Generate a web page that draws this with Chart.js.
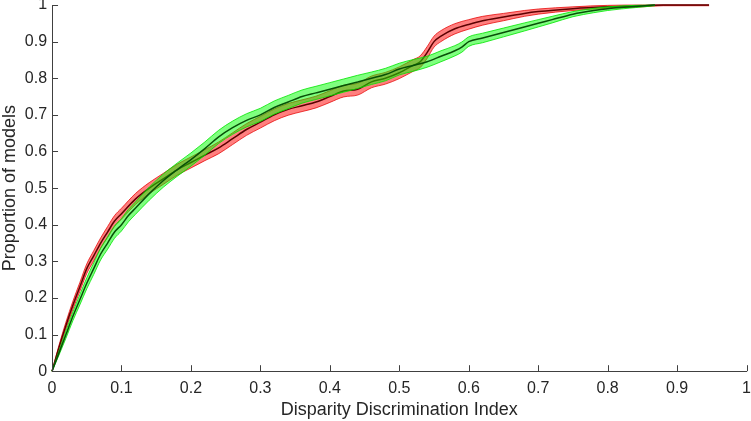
<!DOCTYPE html>
<html>
<head>
<meta charset="utf-8">
<script src="https://cdn.jsdelivr.net/npm/chart.js@4/dist/chart.umd.min.js"></script>
<style>
  html, body { margin: 0; padding: 0; background: #fff; }
  #wrap { width: 751px; height: 421px; }
</style>
</head>
<body>
<div id="wrap"><canvas id="cdf"></canvas></div>
<script>
// tick values
const xTickValues = [0, 0.1, 0.2, 0.3, 0.4, 0.5, 0.6, 0.7, 0.8, 0.9, 1];
const yTickValues = [0, 0.1, 0.2, 0.3, 0.4, 0.5, 0.6, 0.7, 0.8, 0.9, 1];

// red curve (mean + band)
const redX = [0, 0.01, 0.02, 0.03, 0.04, 0.05, 0.06, 0.07, 0.08, 0.09, 0.1, 0.12, 0.14, 0.16, 0.18, 0.2, 0.22, 0.24, 0.26, 0.28, 0.3, 0.32, 0.34, 0.36, 0.38, 0.4, 0.42, 0.44, 0.46, 0.48, 0.5, 0.52, 0.53, 0.54, 0.55, 0.56, 0.58, 0.6, 0.62, 0.65, 0.68, 0.7, 0.75, 0.8, 0.85, 0.88, 0.946];
const redMean = [0, 0.065, 0.125, 0.18, 0.23, 0.28, 0.315, 0.35, 0.38, 0.41, 0.43, 0.47, 0.5, 0.525, 0.55, 0.57, 0.59, 0.61, 0.635, 0.66, 0.68, 0.7, 0.715, 0.725, 0.735, 0.75, 0.765, 0.77, 0.79, 0.8, 0.815, 0.835, 0.845, 0.87, 0.9, 0.915, 0.935, 0.947, 0.957, 0.967, 0.977, 0.982, 0.99, 0.995, 0.998, 1, 1];
const redUpper = [0, 0.071, 0.134, 0.191, 0.242, 0.293, 0.329, 0.364, 0.395, 0.425, 0.445, 0.485, 0.515, 0.54, 0.565, 0.585, 0.605, 0.626, 0.651, 0.676, 0.696, 0.716, 0.731, 0.741, 0.751, 0.766, 0.781, 0.786, 0.806, 0.816, 0.831, 0.851, 0.861, 0.886, 0.915, 0.93, 0.949, 0.96, 0.969, 0.977, 0.985, 0.989, 0.995, 0.999, 1, 1, 1];
const redLower = [0, 0.059, 0.116, 0.169, 0.218, 0.267, 0.301, 0.336, 0.365, 0.395, 0.415, 0.455, 0.485, 0.51, 0.535, 0.555, 0.575, 0.594, 0.619, 0.644, 0.664, 0.684, 0.699, 0.709, 0.719, 0.734, 0.749, 0.754, 0.774, 0.784, 0.799, 0.819, 0.829, 0.854, 0.885, 0.9, 0.921, 0.934, 0.945, 0.957, 0.969, 0.975, 0.985, 0.991, 0.995, 0.998, 0.998];

// green curve (mean + band)
const greenX = [0, 0.01, 0.02, 0.03, 0.04, 0.05, 0.06, 0.07, 0.08, 0.09, 0.1, 0.11, 0.12, 0.14, 0.16, 0.18, 0.2, 0.22, 0.24, 0.26, 0.28, 0.3, 0.32, 0.34, 0.36, 0.38, 0.4, 0.42, 0.44, 0.46, 0.48, 0.5, 0.52, 0.54, 0.56, 0.58, 0.59, 0.6, 0.62, 0.65, 0.68, 0.7, 0.72, 0.75, 0.78, 0.8, 0.84, 0.868];
const greenMean = [0, 0.05, 0.1, 0.15, 0.195, 0.24, 0.28, 0.32, 0.35, 0.38, 0.4, 0.425, 0.445, 0.485, 0.52, 0.55, 0.578, 0.608, 0.64, 0.665, 0.685, 0.7, 0.72, 0.735, 0.75, 0.76, 0.77, 0.78, 0.79, 0.8, 0.81, 0.825, 0.835, 0.845, 0.86, 0.875, 0.885, 0.9, 0.91, 0.925, 0.94, 0.95, 0.96, 0.975, 0.985, 0.99, 0.996, 1];
const greenUpper = [0, 0.056, 0.11, 0.162, 0.209, 0.255, 0.296, 0.336, 0.367, 0.397, 0.417, 0.442, 0.462, 0.503, 0.538, 0.568, 0.596, 0.626, 0.658, 0.683, 0.703, 0.718, 0.738, 0.753, 0.768, 0.778, 0.788, 0.798, 0.808, 0.817, 0.827, 0.841, 0.851, 0.86, 0.875, 0.889, 0.899, 0.913, 0.923, 0.937, 0.951, 0.96, 0.969, 0.982, 0.991, 0.995, 0.999, 1];
const greenLower = [0, 0.044, 0.09, 0.138, 0.181, 0.225, 0.264, 0.304, 0.333, 0.363, 0.383, 0.408, 0.428, 0.467, 0.502, 0.532, 0.56, 0.59, 0.622, 0.647, 0.667, 0.682, 0.702, 0.717, 0.732, 0.742, 0.752, 0.762, 0.772, 0.783, 0.793, 0.809, 0.819, 0.83, 0.845, 0.861, 0.871, 0.887, 0.897, 0.913, 0.929, 0.94, 0.951, 0.968, 0.979, 0.985, 0.993, 0.998];

const FONT = '"Liberation Sans", Arial, Helvetica, sans-serif';

function pts(xs, ys) {
    return xs.map((x, i) => ({ x: x, y: ys[i] }));
}

// one edge of a shaded band; the upper edge fills down to the lower one
function band(xs, ys, edge, fillCol, fillTo, order) {
    return {
        data: pts(xs, ys),
        borderColor: edge,
        borderWidth: 1,
        backgroundColor: fillCol,
        fill: fillTo,
        pointRadius: 0,
        cubicInterpolationMode: 'monotone',
        clip: 4,
        order: order
    };
}

function meanLine(xs, ys, col, order) {
    return {
        data: pts(xs, ys),
        borderColor: col,
        borderWidth: 1.5,
        pointRadius: 0,
        fill: false,
        cubicInterpolationMode: 'monotone',
        clip: 4,
        order: order
    };
}

// MATLAB style ticks pointing into the axes
const inwardTicks = {
    id: 'inwardTicks',
    afterDraw(chart) {
        const { ctx, chartArea, scales } = chart;
        ctx.save();
        ctx.strokeStyle = '#404040';
        ctx.lineWidth = 1;
        ctx.beginPath();
        xTickValues.forEach(v => {
            const px = Math.round(scales.x.getPixelForValue(v)) + 0.5;
            ctx.moveTo(px, chartArea.bottom);
            ctx.lineTo(px, chartArea.bottom - 6);
        });
        yTickValues.forEach(v => {
            const py = Math.round(scales.y.getPixelForValue(v)) + 0.5;
            ctx.moveTo(chartArea.left, py);
            ctx.lineTo(chartArea.left + 6, py);
        });
        ctx.stroke();
        ctx.restore();
    }
};

new Chart(document.getElementById('cdf'), {
    type: 'line',
    data: {
        datasets: [
            band(redX, redLower, 'rgba(230,0,0,0.75)', 'rgba(255,0,0,0.5)', false, 3),
            band(redX, redUpper, 'rgba(230,0,0,0.75)', 'rgba(255,0,0,0.5)', '-1', 3),
            meanLine(redX, redMean, '#5e0000', 2),
            band(greenX, greenLower, 'rgba(0,230,0,0.8)', 'rgba(0,255,0,0.5)', false, 1),
            band(greenX, greenUpper, 'rgba(0,230,0,0.8)', 'rgba(0,255,0,0.5)', '-1', 1),
            meanLine(greenX, greenMean, '#075007', 0)
        ]
    },
    options: {
        responsive: true,
        maintainAspectRatio: false,
        animation: false,
        layout: { padding: { left: 0, right: 0, top: 0, bottom: 0 } },
        plugins: {
            legend: { display: false },
            tooltip: { enabled: false }
        },
        scales: {
            x: {
                type: 'linear',
                min: 0,
                max: 1,
                afterBuildTicks: s => { s.ticks = xTickValues.map(v => ({ value: v })); },
                grid: { display: false, drawTicks: true, tickLength: 8 },
                border: { display: true, color: '#404040', width: 1 },
                ticks: {
                    color: '#262626',
                    padding: 0,
                    maxRotation: 0,
                    autoSkip: false,
                    font: { family: FONT, size: 16 },
                    callback: v => String(v)
                },
                title: {
                    display: true,
                    text: 'Disparity Discrimination Index',
                    color: '#262626',
                    font: { family: FONT, size: 18 },
                    padding: { top: 1, bottom: 0 }
                }
            },
            y: {
                type: 'linear',
                min: 0,
                max: 1,
                afterBuildTicks: s => { s.ticks = yTickValues.map(v => ({ value: v })); },
                grid: { display: false, drawTicks: false },
                border: { display: true, color: '#404040', width: 1 },
                ticks: {
                    color: '#262626',
                    padding: 5,
                    autoSkip: false,
                    font: { family: FONT, size: 16, lineHeight: 0 },
                    callback: v => String(v)
                },
                title: {
                    display: true,
                    text: 'Proportion of models',
                    color: '#262626',
                    font: { family: FONT, size: 18, lineHeight: 1.1 },
                    padding: { top: 0, bottom: 0 }
                }
            }
        }
    },
    plugins: [inwardTicks]
});
</script>
</body>
</html>
